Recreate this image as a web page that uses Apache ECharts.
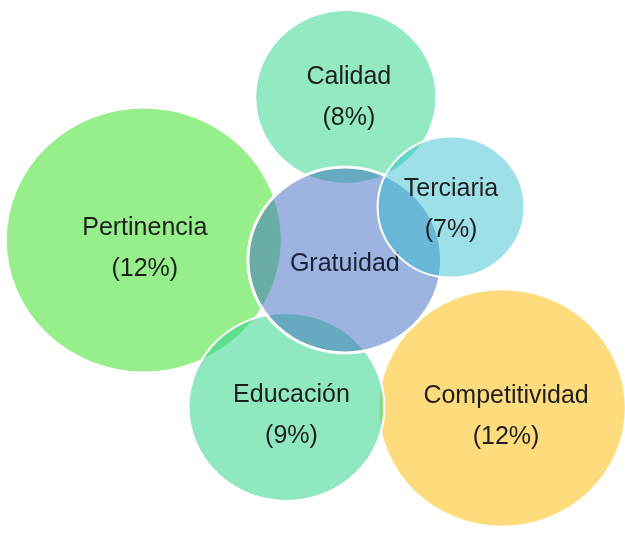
<!DOCTYPE html>
<html>
<head>
<meta charset="utf-8">
<script src="https://cdn.jsdelivr.net/npm/echarts@6/dist/echarts.min.js"></script>
<style>
  html, body { margin: 0; padding: 0; background: #fff; }
  #chart { width: 625px; height: 533px; }
</style>
</head>
<body>
<div id="chart"></div>
<script>
// bubbles listed bottom to top (drawing order)
var names  = ['Pertinencia', 'Calidad', 'Competitividad', 'Educación', 'Gratuidad', 'Terciaria'];
var shares = [12, 8, 12, 9, null, 7];
var posX   = [138, 332, 482, 275, 331, 433];
var posY   = [240, 97, 408, 407, 260, 207];
var diam   = [263, 172, 237, 188, 186, 141];

var X_MAX = 600, Y_MAX = 533;

var fills = [
  '#96ef8a',
  '#93e9c2',
  '#fedc7e',
  'rgba(43,211,136,0.53)',
  'rgba(61,105,193,0.5)',
  'rgba(49,189,206,0.47)'
];
var borders = [0, 0, 1.5, 2, 3, 2];
var textColors = ['#1f1f1f', '#1f1f1f', '#1f1f1f', '#1f1f1f', '#1a2238', '#1f1f1f'];
// labels sit a little off-centre in the original
var labelShift = [[1, 9], [3, 1], [4, 9], [5, 9], [0, 4], [0, 3]];

var chart = echarts.init(document.getElementById('chart'));

var series = names.map(function (name, i) {
  return {
    type: 'scatter',
    name: name,
    z: i + 1,
    silent: true,
    data: [[posX[i], posY[i], diam[i], shares[i]]],
    symbol: 'circle',
    symbolSize: function (v) {
      return [v[2] * chart.getWidth() / X_MAX, v[2] * chart.getHeight() / Y_MAX];
    },
    itemStyle: {
      color: fills[i],
      opacity: 1,
      borderColor: '#fff',
      borderWidth: borders[i]
    },
    label: {
      show: true,
      position: 'inside',
      offset: labelShift[i],
      formatter: function (p) {
        var s = p.value[3];
        return s == null ? name : name + '\n(' + s + '%)';
      },
      fontFamily: '"Liberation Sans", Arial, sans-serif',
      fontSize: 25,
      lineHeight: 41,
      color: textColors[i]
    }
  };
});

chart.setOption({
  animation: false,
  backgroundColor: '#fff',
  grid: { left: 0, right: 0, top: 0, bottom: 0 },
  xAxis: { type: 'value', min: 0, max: X_MAX, show: false },
  yAxis: { type: 'value', min: 0, max: Y_MAX, inverse: true, show: false },
  series: series
});
</script>
</body>
</html>
